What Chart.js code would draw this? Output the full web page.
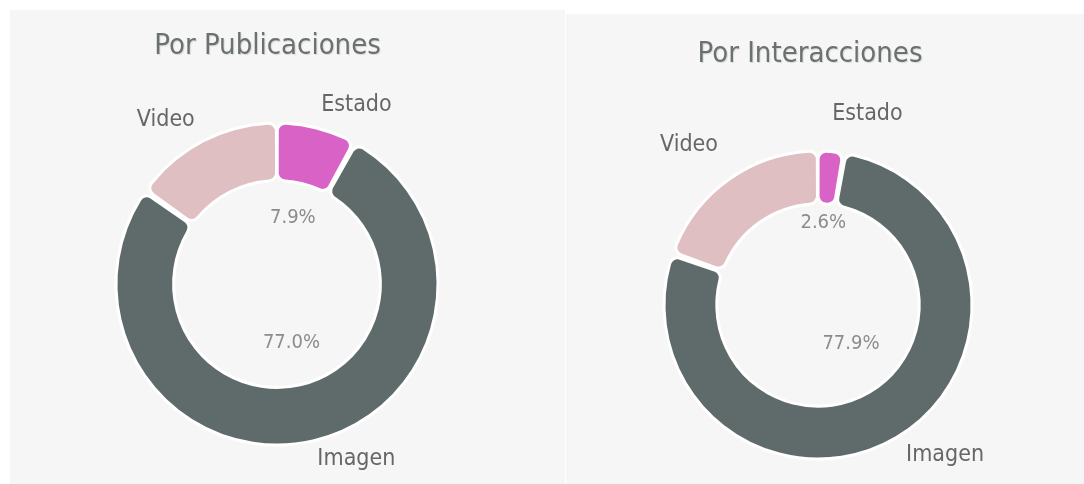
<!DOCTYPE html>
<html>
<head>
<meta charset="utf-8">
<script src="https://cdn.jsdelivr.net/npm/chart.js@4.4.1/dist/chart.umd.min.js"></script>
<style>
  html, body { margin: 0; padding: 0; background: #ffffff; }
  body { width: 1084px; height: 484px; position: relative; overflow: hidden; }
  .panel { position: absolute; background: #f6f6f6; }
  .panel canvas { display: block; }
  .card-title {
    position: absolute;
    margin: 0;
    height: 40px;
    line-height: 40px;
    text-align: center;
    font-family: 'Liberation Sans Narrow', 'DejaVu Sans Condensed', sans-serif;
    font-weight: normal;
    font-size: 29px;
    color: #6b7071;
    text-shadow: 1px 1px 1px rgba(0, 0, 0, 0.12);
    white-space: nowrap;
  }
</style>
</head>
<body>
  <div class="panel" style="left:10px; top:10px; width:555px; height:474px;">
    <canvas id="chartPublicaciones" width="555" height="474"></canvas>
  </div>
  <div class="panel" style="left:566px; top:14px; width:518px; height:470px;">
    <canvas id="chartInteracciones" width="518" height="470"></canvas>
  </div>
  <h2 class="card-title" style="left:10px; top:24px; width:515px;">Por Publicaciones</h2>
  <h2 class="card-title" style="left:566px; top:32px; width:488px;">Por Interacciones</h2>

<script>
// Datos de las dos gráficas
const categories = ['Estado', 'Imagen', 'Video'];
const publicaciones = [7.9, 77.0, 15.1];
const interacciones = [2.6, 77.9, 19.5];
const showPercentFor = ['Estado', 'Imagen'];

const sliceColors = ['#d862c6', '#5f6b6b', '#e0bfc2'];
const fontFamily = "'Liberation Sans Narrow', 'DejaVu Sans Condensed', sans-serif";

// Plugin para dibujar nombres fuera del anillo y porcentajes dentro
const ringLabels = {
    id: 'ringLabels',
    afterDatasetsDraw(chart, args, opts) {
        const ctx = chart.ctx;
        const values = chart.data.datasets[0].data;
        const total = values.reduce((a, b) => a + b, 0);
        const arcs = chart.getDatasetMeta(0).data;

        arcs.forEach((arc, i) => {
            const p = arc.getProps(['x', 'y', 'startAngle', 'endAngle', 'outerRadius', 'innerRadius'], true);
            const mid = (p.startAngle + p.endAngle) / 2;
            const cos = Math.cos(mid);
            const sin = Math.sin(mid);
            const label = chart.data.labels[i];

            ctx.save();
            // nombre de la categoria
            const r = p.outerRadius + opts.labelGap;
            ctx.font = '23px ' + fontFamily;
            ctx.fillStyle = '#666666';
            ctx.textAlign = cos >= 0 ? 'left' : 'right';
            ctx.textBaseline = 'middle';
            const lift = sin < 0 ? opts.labelLift : 0;
            ctx.fillText(label, p.x + cos * r, p.y + sin * r - lift);

            // porcentaje
            if (showPercentFor.includes(label)) {
                const pr = p.innerRadius * opts.pctRadius;
                ctx.font = '20px ' + fontFamily;
                ctx.fillStyle = '#8c8c8c';
                ctx.textAlign = 'center';
                const pct = (values[i] / total * 100).toFixed(1) + '%';
                ctx.fillText(pct, p.x + cos * pr, p.y + sin * pr - opts.pctLift);
            }
            ctx.restore();
        });
    }
};

function buildDonut(canvasId, values, radius, cutout, padding, labelOpts) {
    const ctx = document.getElementById(canvasId).getContext('2d');
    return new Chart(ctx, {
        type: 'doughnut',
        data: {
            labels: categories,
            datasets: [{
                data: values,
                backgroundColor: sliceColors,
                borderColor: '#ffffff',
                borderWidth: 3,
                borderRadius: 8,
                spacing: 2,
                clip: false
            }]
        },
        options: {
            responsive: false,
            animation: false,
            radius: radius,
            cutout: cutout,
            layout: { padding: padding },
            plugins: {
                legend: { display: false },
                tooltip: { enabled: false },
                title: { display: false },
                ringLabels: labelOpts
            }
        },
        plugins: [ringLabels]
    });
}

buildDonut('chartPublicaciones', publicaciones, 160, '64%',
    { left: 0, right: 21, top: 74, bottom: 0 },
    { labelGap: 20, labelLift: 4, pctRadius: 0.63, pctLift: 4 });

buildDonut('chartInteracciones', interacciones, 153, '65.5%',
    { left: 0, right: 14, top: 112, bottom: 0 },
    { labelGap: 21, labelLift: 18, pctRadius: 0.65, pctLift: 17 });
</script>
</body>
</html>
